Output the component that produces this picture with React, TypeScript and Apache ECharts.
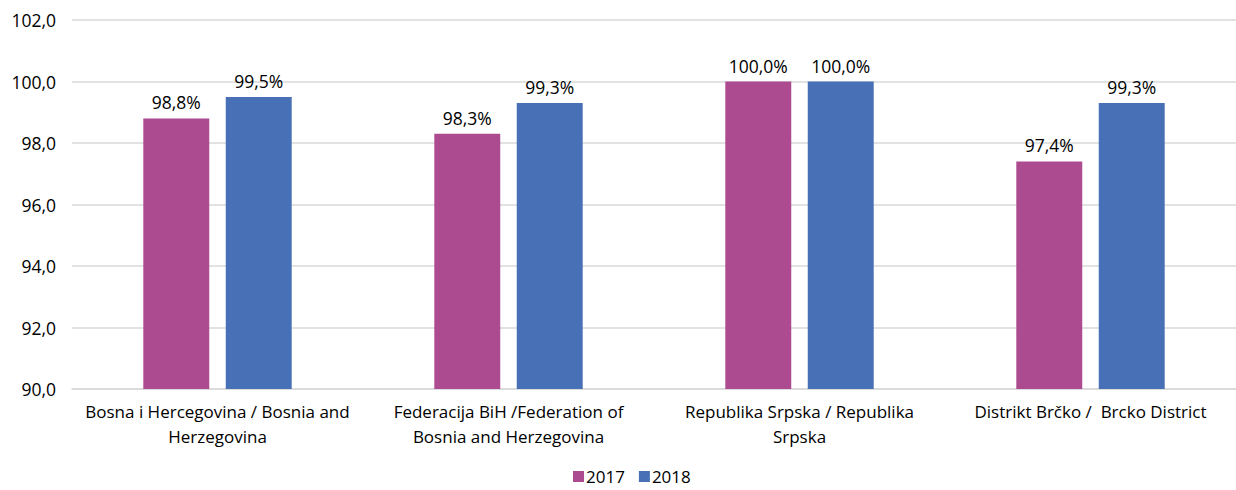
import React, { useEffect, useRef } from "react";
import * as echarts from "echarts";

const categories = [
  "Bosna i Hercegovina / Bosnia and\nHerzegovina",
  "Federacija BiH /Federation of\nBosnia and Herzegovina",
  "Republika Srpska / Republika\nSrpska",
  "Distrikt Brčko /  Brcko District",
];
const seriesNames = ["2017", "2018"];
const values2017 = [98.8, 98.3, 100.0, 97.4];
const values2018 = [99.5, 99.3, 100.0, 99.3];

const FONT = "'Open Sans', 'Noto Sans', sans-serif";
const fmt = (v: number) => v.toFixed(1).replace(".", ",");

export default function App() {
  const ref = useRef<HTMLDivElement>(null);
  useEffect(() => {
    document.body.style.margin = "0";
    const chart = echarts.init(ref.current!, undefined, { renderer: "svg" });
    const label = {
      show: true,
      position: "top",
      distance: 7,
      color: "#000",
      fontFamily: FONT,
      fontSize: 17.5,
      formatter: (p: any) => fmt(p.value) + "%",
    };
    chart.setOption({
      animation: false,
      textStyle: { fontFamily: FONT },
      grid: { left: 72, right: 0, top: 20, bottom: 101 },
      legend: {
        bottom: 0,
        left: 568,
        itemWidth: 11,
        itemHeight: 11,
        itemGap: 14,
        icon: "rect",
        textStyle: { fontFamily: FONT, fontSize: 17, color: "#000", padding: [0, 0, 0, -3] },
        data: seriesNames,
      },
      xAxis: {
        type: "category",
        data: categories,
        axisLine: { lineStyle: { color: "#d9d9d9", width: 1.5 } },
        axisTick: { show: false },
        axisLabel: {
          color: "#000",
          fontFamily: FONT,
          fontSize: 17,
          lineHeight: 25,
          margin: 10,
          interval: 0,
        },
      },
      yAxis: {
        type: "value",
        min: 90,
        max: 102,
        interval: 2,
        axisLine: { show: false },
        axisTick: { show: false },
        splitLine: { lineStyle: { color: "#d9d9d9", width: 1.5 } },
        axisLabel: {
          color: "#000",
          fontFamily: FONT,
          fontSize: 17.5,
          margin: 16,
          formatter: (v: number) => fmt(v),
        },
      },
      series: [
        {
          name: seriesNames[0],
          type: "bar",
          data: values2017,
          barGap: "25%",
          barCategoryGap: "49%",
          itemStyle: { color: "#AD4B91" },
          label,
        },
        {
          name: seriesNames[1],
          type: "bar",
          data: values2018,
          itemStyle: { color: "#4870B6" },
          label,
        },
      ],
    });
    return () => chart.dispose();
  }, []);
  return <div ref={ref} style={{ width: 1236, height: 490 }} />;
}
